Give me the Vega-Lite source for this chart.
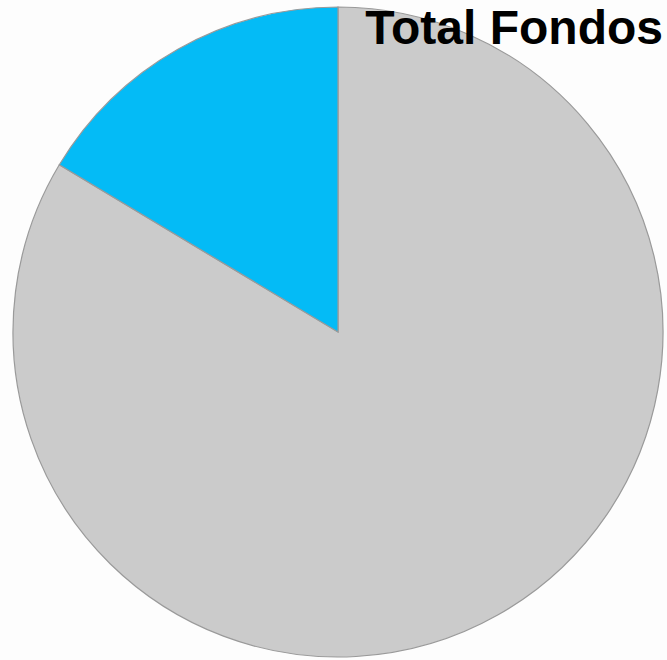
{
  "$schema": "https://vega.github.io/schema/vega-lite/v6.json",
  "width": 667,
  "height": 660,
  "autosize": {"type": "fit", "contains": "padding"},
  "padding": {"left": 9, "top": 4, "right": 0, "bottom": 0},
  "background": "#fdfdfd",
  "title": {
    "text": "Total Fondos",
    "anchor": "end",
    "orient": "top",
    "frame": "group",
    "offset": -49,
    "font": "Liberation Sans",
    "fontSize": 48,
    "fontWeight": "bold",
    "color": "#000000",
    "dx": -4
  },
  "data": {
    "values": [
      {"categoria": "Otros", "valor": 83.6, "orden": 1},
      {"categoria": "Fondo", "valor": 16.4, "orden": 2}
    ]
  },
  "mark": {"type": "arc", "stroke": "#9a9a9a", "strokeWidth": 1.2},
  "encoding": {
    "theta": {"field": "valor", "type": "quantitative", "stack": true},
    "order": {"field": "orden", "type": "quantitative"},
    "color": {
      "field": "categoria",
      "type": "nominal",
      "scale": {"domain": ["Otros", "Fondo"], "range": ["#cbcbcb", "#04bbf6"]},
      "legend": null
    }
  },
  "config": {"view": {"stroke": null}}
}
